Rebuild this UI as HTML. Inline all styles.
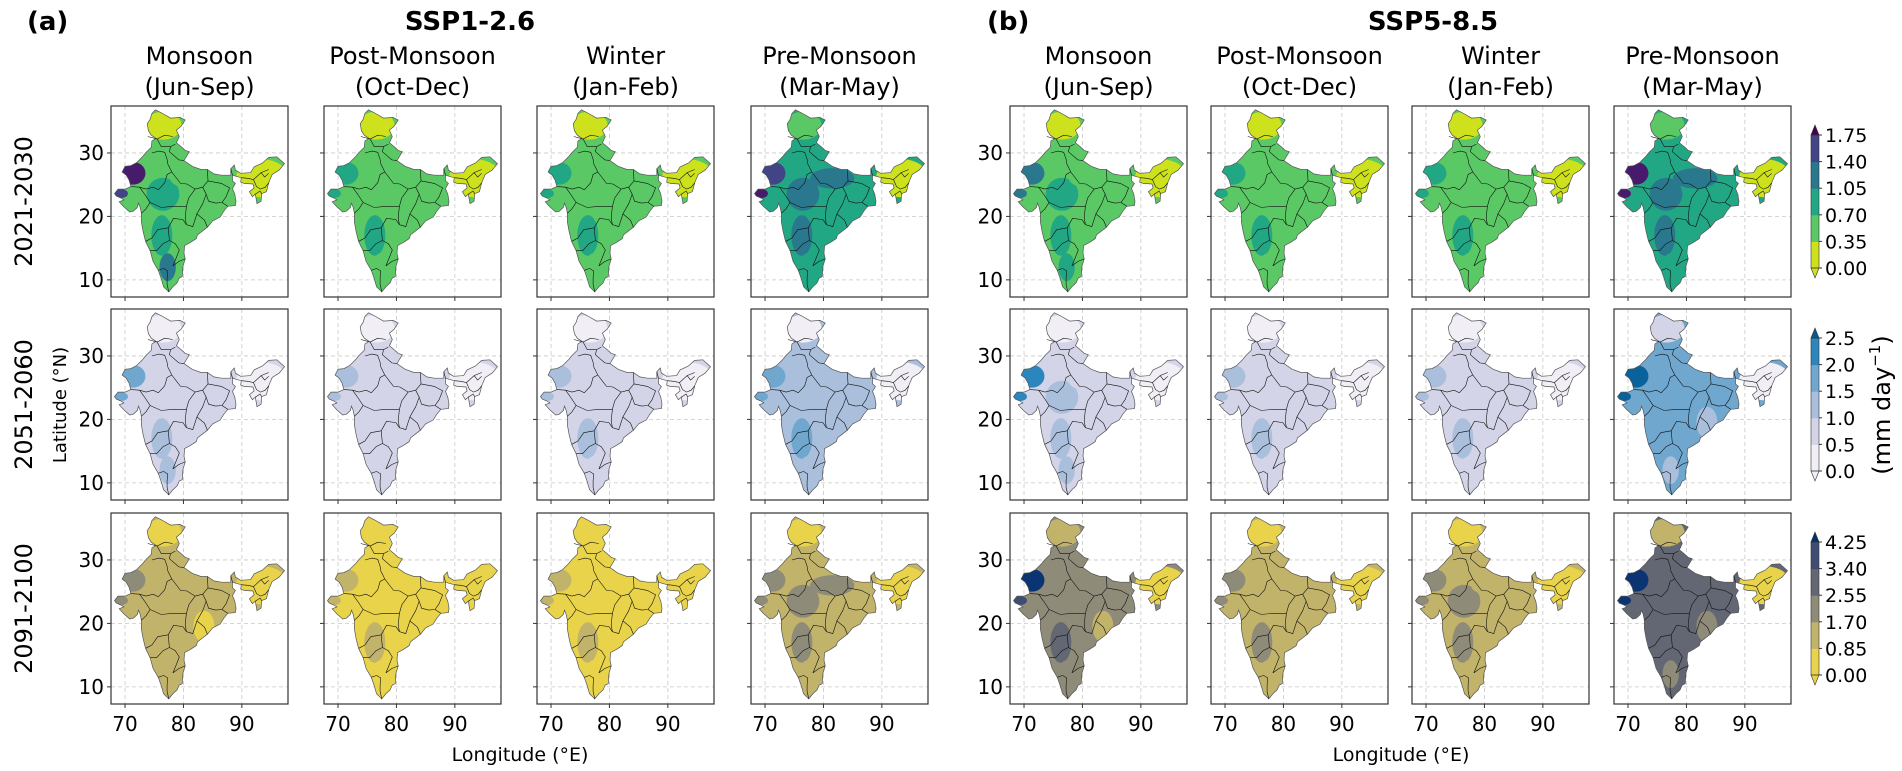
<!DOCTYPE html>
<html><head><meta charset="utf-8">
<style>
html,body{margin:0;padding:0;background:#fff;}
svg{display:block;font-family:"DejaVu Sans","Liberation Sans",sans-serif;}
</style></head>
<body>
<svg id="fig" width="1902" height="771" viewBox="0 0 1902 771" xmlns="http://www.w3.org/2000/svg">
<text x="27" y="30" font-size="26" font-weight="bold">(a)</text>
<text x="987" y="30" font-size="26" font-weight="bold">(b)</text>
<text x="470" y="30" font-size="26" font-weight="bold" text-anchor="middle">SSP1-2.6</text>
<text x="1433" y="30" font-size="26" font-weight="bold" text-anchor="middle">SSP5-8.5</text>
<text transform="translate(66,405) rotate(-90)" font-size="18" text-anchor="middle">Latitude (°N)</text>
<text x="520" y="761" font-size="19" text-anchor="middle">Longitude (°E)</text>
<text x="1401" y="761" font-size="19" text-anchor="middle">Longitude (°E)</text>
<text transform="translate(1890,405) rotate(-90)" font-size="24" text-anchor="middle">(mm day<tspan font-size="15" dy="-10">−1</tspan><tspan dy="10">)</tspan></text>
</svg>
<script>
// ---- data ----
const seasons = ["Monsoon","Post-Monsoon","Winter","Pre-Monsoon"];
const seasonMonths = ["(Jun-Sep)","(Oct-Dec)","(Jan-Feb)","(Mar-May)"];
const periods = ["2021-2030","2051-2060","2091-2100"];
const lonTicks = [70,80,90];
const latTicks = [10,20,30];
const cbTicks1 = ["0.00","0.35","0.70","1.05","1.40","1.75"];
const cbTicks2 = ["0.0","0.5","1.0","1.5","2.0","2.5"];
const cbTicks3 = ["0.00","0.85","1.70","2.55","3.40","4.25"];
const palette1 = ["#cde11d","#5ac864","#22a784","#2a788e","#414487","#481a6c","#440154"];
const palette2 = ["#f1eef6","#d4d4e8","#a9bfdc","#6fa7cf","#2b86bd","#0a629c","#045a8d"];
const palette3 = ["#e8d34a","#c2b36b","#8f8b79","#626773","#3e4d71","#0b3473","#00326f"];
// regions (geographic): base, north, northeast, westRaj, kutch, central, deccan, south, gangetic, eastcoast
const regionLon = [0,76.5,93.5,71.3,69.3,76.5,76.3,77.3,81.5,83.5];
const regionLat = [0,34.3,26.0,26.8,23.6,23.5,17.0,12.0,26.0,19.5];
const regionRx  = [0,3.2,4.5,2.2,1.2,2.8,1.8,1.4,3.8,1.8];
const regionRy  = [0,2.2,3.0,1.8,0.7,2.6,3.2,2.2,1.6,2.5];
// level index per region [row][col]
const levels = [
 [[1,0,0,5,4,2,2,3,1,1],[1,0,0,2,2,1,2,1,1,1],[1,0,0,2,2,1,2,1,1,1],[2,1,0,4,5,3,3,2,3,2],
  [1,0,0,3,3,2,2,2,1,1],[1,0,0,2,2,1,2,1,1,1],[1,0,0,2,2,1,2,1,1,1],[2,1,0,5,5,3,3,2,3,2]],
 [[1,0,0,3,3,1,2,2,1,1],[1,0,0,2,2,1,1,1,1,1],[1,0,0,2,2,1,2,1,1,1],[2,0,0,3,3,2,3,2,2,2],
  [1,0,0,4,4,2,2,2,1,1],[1,0,0,2,2,1,2,1,1,1],[1,0,0,2,2,1,2,1,1,1],[3,1,0,5,5,3,3,2,3,2]],
 [[1,0,0,2,2,1,1,1,1,0],[0,0,0,1,1,0,1,0,0,0],[0,0,0,1,1,0,1,0,0,0],[1,0,0,2,2,2,2,1,2,1],
  [2,1,0,5,4,2,3,2,2,1],[1,0,0,2,2,1,2,1,1,1],[1,0,0,2,2,2,2,1,1,1],[3,1,0,5,5,3,3,2,3,2]]
];
// ---- geometry ----
const colLeftA=[111,324,537,751], colLeftB=[1010,1211,1412,1614];
const rowTop=[106,309,513];
const PW=177, PH=191, LON0=67.6, LON1=97.9, LAT1=37.4, LAT0=7.3;
const india=[[68.2,23.6],[68.8,24.3],[70,24.3],[71,24.7],[70.7,25.7],[70.2,26.5],[69.5,27],[70,27.9],[71,28],[72,28.5],[73,29.4],[73.5,30],[74.5,30.9],[74.6,31.9],[75.3,32.3],[74.5,32.8],[74,33.5],[73.8,34.6],[74.3,35.3],[74.6,36.2],[75.2,36.8],[76.3,36.3],[77.8,35.5],[79.4,35.6],[80.3,35.2],[79.6,34.2],[78.8,33.6],[79.3,32.6],[78.8,31.6],[79.6,31],[80.3,30.4],[81,30.2],[80.1,28.8],[81.5,27.9],[83,27.4],[84.1,27.4],[85.2,26.7],[86.5,26.5],[88.1,26.5],[88.1,27.5],[88.7,28.1],[88.9,27.3],[89.8,26.8],[91.5,26.9],[92.1,27.8],[93.5,28.4],[94.6,29.3],[96,29.4],[97.3,28.3],[96.4,27.3],[95.2,26.6],[94.6,25.3],[94.2,23.9],[93.4,23.6],[93.3,22.4],[92.6,22],[92.3,23.5],[91.8,23.1],[91.3,23.9],[92.1,24.5],[91.9,25.1],[90.4,25.2],[89.8,25.4],[89.9,26.1],[89.1,26.3],[88.4,26.5],[88.4,25.6],[88.9,25.2],[88.4,24.4],[88.8,23.5],[89,22.4],[88.9,21.7],[87.6,21.6],[86.9,20.8],[86.3,19.9],[85,19.3],[84.1,18.3],[82.4,17.1],[82.2,16.5],[81.2,15.9],[80.2,15.4],[80.1,14.2],[80.3,13.3],[79.9,12.1],[79.8,10.5],[79.3,10.3],[78.9,9.5],[78.2,8.9],[77.5,8.1],[76.6,8.9],[76.2,10.2],[75.7,11.5],[74.8,12.9],[74.3,14.6],[73.5,16.1],[73.1,17.6],[72.8,19.1],[72.8,20.5],[72.6,21.4],[72.3,22.1],[72.1,21.4],[71.4,20.8],[70.8,20.7],[69.8,21.5],[69,22.3],[69.8,22.6],[69.3,22.9],[68.5,23.2]];
const states=[
 [[73.9,32.6],[75.5,32.2],[76.8,32.8],[78.2,32.6]],
 [[75.5,32.2],[76.2,31],[77.8,31],[78.6,31.4]],
 [[77.8,31],[77.6,30.2],[79.2,28.9],[80.1,28.8]],
 [[74.6,30],[75.8,30.3],[76.8,30.1],[77.2,29],[77.3,28.3]],
 [[72.5,24.6],[73.6,24.3],[74.8,24.6],[75.7,24.2],[76.8,25.3],[77.2,26.6],[78,27]],
 [[77.3,28.3],[78,27],[79.5,25.2],[80.6,25.1],[82,24.3],[83.3,24.6],[84.2,25.6],[84.1,27.4]],
 [[71,24.7],[72.5,24.6],[73.5,23.3],[74.3,22.2],[73.6,21.2],[72.8,20.5]],
 [[74.3,22.2],[76.2,21.4],[78.2,21.6],[80.5,21.6],[80.9,22.9],[82,24.3]],
 [[83.3,24.6],[83.9,23.5],[83.3,22],[82.3,20.4],[81.6,18.4],[80.5,18.7],[80.3,19.8],[80.5,21.6]],
 [[84.2,25.6],[86.5,25.2],[87.9,24.5],[87.3,23.1],[86.6,22.2],[85.5,22.1],[84.3,22.4],[83.9,23.5]],
 [[86.6,22.2],[87.6,21.6]],
 [[82.3,20.4],[83.6,19.4],[84.1,18.3]],
 [[73.6,16.1],[74.6,16.6],[75.6,17.9],[77.4,18.2],[78.3,19.7],[79.9,19.5],[80.5,18.7]],
 [[77.4,18.2],[77.6,16.2],[78.6,15.7],[79.3,14.7],[78.7,13.3],[78.2,12.2]],
 [[74.3,14.6],[75.4,14.6],[76.5,15.7],[77.6,16.2]],
 [[75.7,11.5],[76.6,11.8],[77.3,11.4],[77.2,10.3],[77.2,9.3],[77.5,8.1]],
 [[78.2,12.2],[79.2,12.9],[80.3,13.3]],
 [[88.1,27.5],[88.4,26.5]],
 [[89.9,26.1],[91,26],[92,25.8],[93.3,26.9],[94.6,27.4]],
 [[92,25.8],[92.5,24.7],[93.2,24.3],[94,24.6],[94.6,25.3]],
 [[92.3,23.5],[93.1,24],[93.4,23.6]],
 [[93.3,26.9],[93.9,26.2],[94.6,26.8]]
];
const svg=document.getElementById('fig');
const NS="http://www.w3.org/2000/svg";
function el(tag,attrs,parent){const e=document.createElementNS(NS,tag);for(const k in attrs)e.setAttribute(k,attrs[k]);(parent||svg).appendChild(e);return e;}
function txt(x,y,s,size,anchor,parent){const t=el('text',{x:x,y:y,'font-size':size,'text-anchor':anchor||'start'},parent);t.textContent=s;return t;}
const xs=(L,lon)=>L+(lon-LON0)/(LON1-LON0)*PW;
const ys=(T,lat)=>T+(LAT1-lat)/(LAT1-LAT0)*PH;
const pts=(L,T,arr)=>arr.map(p=>xs(L,p[0]).toFixed(1)+","+ys(T,p[1]).toFixed(1)).join(" ");
const palettes=[palette1,palette2,palette3];

const allLefts=colLeftA.concat(colLeftB);
allLefts.forEach((L,i)=>{
  const t1=txt(L+PW/2,64,seasons[i%4],24,'middle');
  
  
  const t2=txt(L+PW/2,95,seasonMonths[i%4],24,'middle');
  
  
});
periods.forEach((p,r)=>{
  const t=el('text',{transform:`translate(32,${rowTop[r]+PH/2}) rotate(-90)`,'font-size':24,'text-anchor':'middle'});
  t.textContent=p;
  
  
});

let clipId=0;
for(let r=0;r<3;r++){
  for(let c=0;c<8;c++){
    const L=allLefts[c], T=rowTop[r];
    const g=el('g',{});
    
    
    lonTicks.forEach(v=>{el('line',{x1:xs(L,v),x2:xs(L,v),y1:T,y2:T+PH,stroke:'#c8c8c8','stroke-width':0.8,'stroke-dasharray':'4,3'},g);});
    latTicks.forEach(v=>{el('line',{x1:L,x2:L+PW,y1:ys(T,v),y2:ys(T,v),stroke:'#c8c8c8','stroke-width':0.8,'stroke-dasharray':'4,3'},g);});
    const id='clip'+(clipId++);
    const cp=el('clipPath',{id:id},g);
    el('polygon',{points:pts(L,T,india)},cp);
    const pal=palettes[r], lv=levels[r][c];
    const fg=el('g',{'clip-path':`url(#${id})`},g);
    el('rect',{x:L,y:T,width:PW,height:PH,fill:pal[lv[0]]},fg);
    for(let k=1;k<lv.length;k++){
      const e=el('ellipse',{cx:xs(L,regionLon[k]),cy:ys(T,regionLat[k]),rx:regionRx[k]/(LON1-LON0)*PW,ry:regionRy[k]/(LAT1-LAT0)*PH,fill:pal[lv[k]]},fg);
      
      
    }
    el('polygon',{points:pts(L,T,india),fill:'none',stroke:'#555','stroke-width':0.7},g);
    states.forEach(s=>el('polyline',{points:pts(L,T,s),fill:'none',stroke:'#111','stroke-width':0.6},g));
    el('rect',{x:L,y:T,width:PW,height:PH,fill:'none',stroke:'#333','stroke-width':1.2},g);
    latTicks.forEach(v=>{
      const y=ys(T,v);
      el('line',{x1:L-4,x2:L,y1:y,y2:y,stroke:'#333','stroke-width':1},g);
      if(c===0||c===4){const t=txt(L-7,y+7,String(v),20,'end',g);}
    });
    lonTicks.forEach(v=>{
      const x=xs(L,v);
      el('line',{x1:x,x2:x,y1:T+PH,y2:T+PH+4,stroke:'#333','stroke-width':1},g);
      if(r===2){const t=txt(x,T+PH+27,String(v),20,'middle',g);}
    });
  }
}
const cbTicks=[cbTicks1,cbTicks2,cbTicks3];
const cbRectTop=[135,338,542], cbH=133, cbX=1811, cbW=8;
for(let r=0;r<3;r++){
  const g=el('g',{});
  
  
  const pal=palettes[r], top=cbRectTop[r], n=cbTicks[r].length-1, step=cbH/n;
  for(let i=0;i<n;i++){
    el('rect',{x:cbX,y:top+cbH-(i+1)*step,width:cbW,height:step+0.5,fill:pal[i]},g);
  }
  el('polygon',{points:`${cbX},${top} ${cbX+cbW},${top} ${cbX+cbW/2},${top-10}`,fill:pal[6],stroke:'#333','stroke-width':0.6},g);
  el('polygon',{points:`${cbX},${top+cbH} ${cbX+cbW},${top+cbH} ${cbX+cbW/2},${top+cbH+10}`,fill:pal[0],stroke:'#333','stroke-width':0.6},g);
  el('rect',{x:cbX,y:top,width:cbW,height:cbH,fill:'none',stroke:'#333','stroke-width':0.6},g);
  cbTicks[r].forEach((s,i)=>{
    const y=top+cbH-i*step;
    el('line',{x1:cbX+cbW,x2:cbX+cbW+3,y1:y,y2:y,stroke:'#333','stroke-width':1},g);
    const t=txt(cbX+cbW+6,y+7,s,19,'start',g);
    
    
  });
}
</script>
</body></html>
